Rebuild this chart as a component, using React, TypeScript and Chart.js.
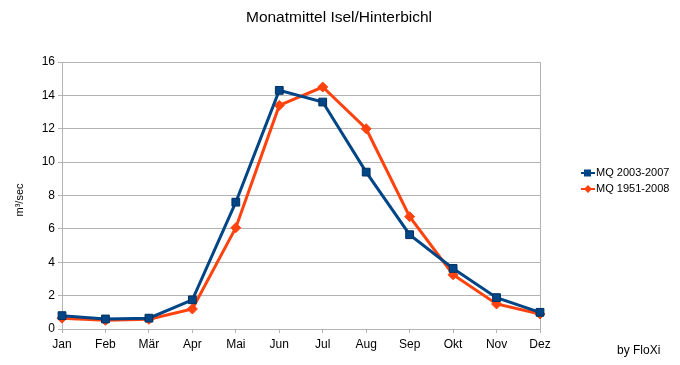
import React, { useEffect, useRef } from "react";
import { Chart, registerables } from "chart.js";

Chart.register(...registerables);

const months = ["Jan", "Feb", "Mär", "Apr", "Mai", "Jun", "Jul", "Aug", "Sep", "Okt", "Nov", "Dez"];
const mq2003 = [0.8, 0.6, 0.65, 1.75, 7.6, 14.3, 13.6, 9.4, 5.65, 3.63, 1.88, 1.0];
const mq1951 = [0.65, 0.52, 0.58, 1.2, 6.07, 13.4, 14.5, 12.0, 6.73, 3.25, 1.5, 0.9];
const seriesLabels = ["MQ 2003-2007", "MQ 1951-2008"];
const titleText = "Monatmittel Isel/Hinterbichl";
const yTitle = "m³/sec";
const credit = "by FloXi";

const BLUE = "#004586";
const RED = "#ff420e";
const GRID = "#b3b3b3";
const FONT = "'Liberation Sans', Arial, sans-serif";

const extras = {
  id: "extras",
  beforeDatasetsDraw(chart: any) {
    const { ctx, chartArea } = chart;
    ctx.save();
    ctx.strokeStyle = GRID;
    ctx.lineWidth = 1;
    ctx.beginPath();
    ctx.moveTo(Math.round(chartArea.right) + 0.5, chartArea.top);
    ctx.lineTo(Math.round(chartArea.right) + 0.5, chartArea.bottom);
    ctx.stroke();
    ctx.restore();
  },
  afterDraw(chart: any) {
    const { ctx } = chart;
    // chart title
    ctx.save();
    ctx.font = `15.5px ${FONT}`;
    ctx.fillStyle = "#000";
    ctx.textAlign = "center";
    ctx.textBaseline = "middle";
    ctx.fillText(titleText, 339, 18);
    ctx.restore();

    // y-axis title
    ctx.save();
    ctx.translate(20, 200);
    ctx.rotate(-Math.PI / 2);
    ctx.font = `11px ${FONT}`;
    ctx.fillStyle = "#000";
    ctx.textAlign = "center";
    ctx.textBaseline = "middle";
    ctx.fillText(yTitle, 0, 0);
    ctx.restore();

    ctx.save();
    const rows = [173, 189];
    chart.data.datasets.forEach((ds: any, i: number) => {
      const y = rows[i];
      ctx.strokeStyle = ds.borderColor;
      ctx.lineWidth = 2;
      ctx.beginPath();
      ctx.moveTo(581, y);
      ctx.lineTo(595, y);
      ctx.stroke();
      ctx.fillStyle = ds.borderColor;
      if (i === 0) {
        ctx.fillRect(584, y - 3.5, 7, 7);
      } else {
        ctx.beginPath();
        ctx.moveTo(588, y - 4);
        ctx.lineTo(592, y);
        ctx.lineTo(588, y + 4);
        ctx.lineTo(584, y);
        ctx.closePath();
        ctx.fill();
      }
      ctx.fillStyle = "#000";
      ctx.font = `11px ${FONT}`;
      ctx.textBaseline = "middle";
      ctx.textAlign = "left";
      ctx.fillText(ds.label, 596, y);
    });
    ctx.font = `12px ${FONT}`;
    ctx.textAlign = "left";
    ctx.textBaseline = "middle";
    ctx.fillStyle = "#000";
    ctx.fillText(credit, 617, 351);
    ctx.restore();
  },
};

export default function App() {
  const ref = useRef<HTMLCanvasElement>(null);
  useEffect(() => {
    if (!ref.current) return;
    const chart = new Chart(ref.current, {
      type: "line",
      data: {
        labels: months,
        datasets: [
          {
            label: seriesLabels[0],
            data: mq2003,
            borderColor: BLUE,
            backgroundColor: BLUE,
            borderWidth: 3,
            pointStyle: "rect",
            pointRadius: 5.5,
            pointBorderWidth: 1,
            pointBorderColor: "#00305e",
            tension: 0,
          },
          {
            label: seriesLabels[1],
            data: mq1951,
            borderColor: RED,
            backgroundColor: RED,
            borderWidth: 3,
            pointStyle: "rectRot",
            pointRadius: 5,
            pointBorderWidth: 1,
            tension: 0,
          },
        ],
      },
      options: {
        responsive: false,
        animation: false,
        layout: { padding: { left: 0, right: 140, top: 62, bottom: 12 } },
        plugins: {
          legend: { display: false },
          tooltip: { enabled: false },
          title: { display: false },
        },
        scales: {
          x: {
            offset: false,
            grid: {
              display: true,
              drawOnChartArea: false,
              drawTicks: true,
              tickLength: 4,
              color: GRID,
            },
            border: { color: GRID },
            ticks: {
              color: "#000",
              font: { family: FONT, size: 12 },
              padding: 4,
              maxRotation: 0,
              autoSkip: false,
            },
            afterFit: (s: any) => {
              s.height = 24;
            },
          },
          y: {
            min: 0,
            max: 16,
            grid: { color: GRID, tickLength: 4 },
            border: { color: GRID },
            ticks: {
              stepSize: 2,
              color: "#000",
              font: { family: FONT, size: 12 },
              padding: 3,
            },
            afterFit: (s: any) => {
              s.width = 62;
            },
          },
        },
      },
      plugins: [extras],
    });
    return () => chart.destroy();
  }, []);
  return (
    <div style={{ position: "absolute", left: 0, top: 0, width: 680, height: 365, background: "#fff" }}>
      <canvas ref={ref} width={680} height={365} />
    </div>
  );
}
